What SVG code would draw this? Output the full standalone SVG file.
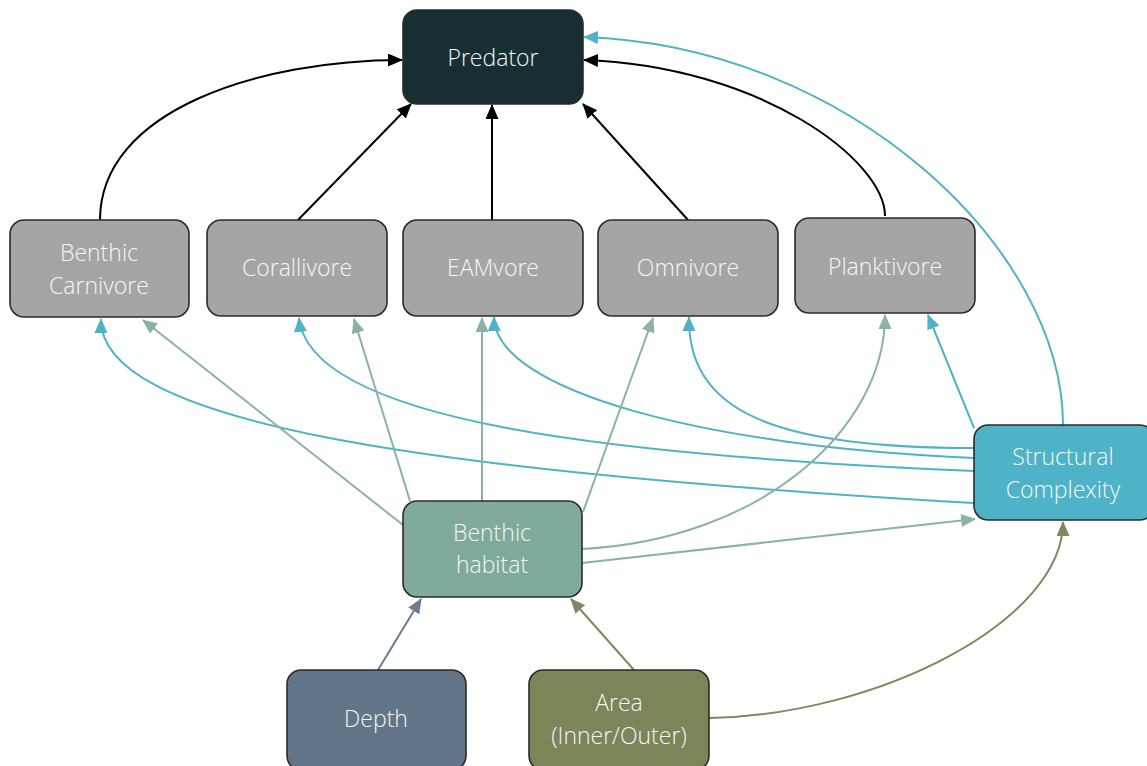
<svg xmlns="http://www.w3.org/2000/svg" width="1147" height="766" viewBox="0 0 1147 766">
<style>
.n{stroke:#2b2b2b;stroke-width:1.6}
.t{font-family:"Open Sans","Liberation Sans",sans-serif;font-weight:300;font-size:23px;fill:#f5f5f5;text-anchor:middle}
.c{fill:none;stroke-width:2}
.k{stroke:#000}
.b{stroke:#4fb3c8}
.g{stroke:#8ab3a3}
.d{stroke:#6a7d90}
.a{stroke:#7e8a5d}
</style>
<defs>
<marker id="mk" markerUnits="userSpaceOnUse" markerWidth="15" markerHeight="13" refX="14" refY="6.5" orient="auto"><path d="M0,0 L15,6.5 L0,13 z" fill="#000"/></marker>
<marker id="mb" markerUnits="userSpaceOnUse" markerWidth="15" markerHeight="13" refX="14" refY="6.5" orient="auto"><path d="M0,0 L15,6.5 L0,13 z" fill="#4fb3c8"/></marker>
<marker id="mg" markerUnits="userSpaceOnUse" markerWidth="15" markerHeight="13" refX="14" refY="6.5" orient="auto"><path d="M0,0 L15,6.5 L0,13 z" fill="#8ab3a3"/></marker>
<marker id="md" markerUnits="userSpaceOnUse" markerWidth="15" markerHeight="13" refX="14" refY="6.5" orient="auto"><path d="M0,0 L15,6.5 L0,13 z" fill="#6a7d90"/></marker>
<marker id="ma" markerUnits="userSpaceOnUse" markerWidth="15" markerHeight="13" refX="14" refY="6.5" orient="auto"><path d="M0,0 L15,6.5 L0,13 z" fill="#7e8a5d"/></marker>
</defs>
<g id="connectors">
<path class="c k" marker-end="url(#mk)" d="M100,220 C100,110 260,60 402,60"/>
<path class="c k" marker-end="url(#mk)" d="M298,220 L411,104"/>
<path class="c k" marker-end="url(#mk)" d="M492,220 L492,105"/>
<path class="c k" marker-end="url(#mk)" d="M688,220 L583,104"/>
<path class="c k" marker-end="url(#mk)" d="M885,216 C885,160 760,66 584,60"/>
<path class="c b" marker-end="url(#mb)" d="M1063,425 C1063,250 850,46 584,37"/>
<path class="c b" marker-end="url(#mb)" d="M974,428 L928,315"/>
<path class="c b" marker-end="url(#mb)" d="M974,448 C770,448 688,410 689,317"/>
<path class="c b" marker-end="url(#mb)" d="M974,458 C700,446 495,390 494,317"/>
<path class="c b" marker-end="url(#mb)" d="M974,471 C600,455 310,420 299,318"/>
<path class="c b" marker-end="url(#mb)" d="M974,503 C400,470 100,420 101,319"/>
<path class="c g" marker-end="url(#mg)" d="M403,525 L143,320"/>
<path class="c g" marker-end="url(#mg)" d="M410,501 L354,319"/>
<path class="c g" marker-end="url(#mg)" d="M482,501 L482,318"/>
<path class="c g" marker-end="url(#mg)" d="M583,512 L653,318"/>
<path class="c g" marker-end="url(#mg)" d="M582,549 C760,540 885,430 885,315"/>
<path class="c g" marker-end="url(#mg)" d="M582,563 L975,519"/>
<path class="c d" marker-end="url(#md)" d="M378,670 L421,599"/>
<path class="c a" marker-end="url(#ma)" d="M634,670 L571,599"/>
<path class="c a" marker-end="url(#ma)" d="M709,718 C880,715 1063,620 1063,522"/>
</g>
<g id="predator"><rect class="n" x="403" y="10" width="180" height="94" rx="14" fill="#172f33"/><text class="t" x="493" y="66">Predator</text></g>
<g id="benthic-carnivore"><rect class="n" x="10" y="220" width="179" height="97" rx="14" fill="#a5a5a5"/><text class="t" x="99" y="261">Benthic</text><text class="t" x="99" y="294">Carnivore</text></g>
<g id="corallivore"><rect class="n" x="207" y="220" width="180" height="96" rx="14" fill="#a5a5a5"/><text class="t" x="297" y="276">Corallivore</text></g>
<g id="eamvore"><rect class="n" x="403" y="220" width="180" height="96" rx="14" fill="#a5a5a5"/><text class="t" x="493" y="276">EAMvore</text></g>
<g id="omnivore"><rect class="n" x="598" y="220" width="180" height="96" rx="14" fill="#a5a5a5"/><text class="t" x="688" y="276">Omnivore</text></g>
<g id="planktivore"><rect class="n" x="795" y="218" width="180" height="95" rx="14" fill="#a5a5a5"/><text class="t" x="885" y="275">Planktivore</text></g>
<g id="structural-complexity"><rect class="n" x="974" y="425" width="180" height="95" rx="14" fill="#4fb3c8"/><text class="t" x="1063" y="465">Structural</text><text class="t" x="1063" y="498">Complexity</text></g>
<g id="benthic-habitat"><rect class="n" x="403" y="501" width="179" height="96" rx="14" fill="#80ab9a"/><text class="t" x="492" y="541">Benthic</text><text class="t" x="492" y="573">habitat</text></g>
<g id="depth"><rect class="n" x="287" y="670" width="179" height="100" rx="14" fill="#637588"/><text class="t" x="376" y="727">Depth</text></g>
<g id="area"><rect class="n" x="529" y="670" width="180" height="100" rx="14" fill="#7a8559"/><text class="t" x="619" y="711">Area</text><text class="t" x="619" y="744">(Inner/Outer)</text></g>
</svg>
